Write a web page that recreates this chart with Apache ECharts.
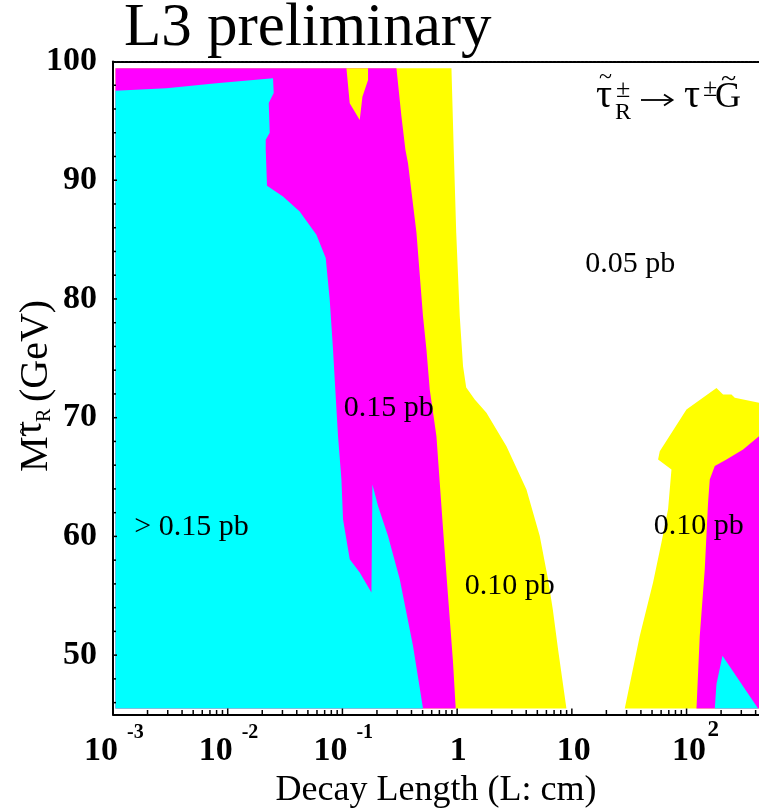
<!DOCTYPE html>
<html><head><meta charset="utf-8">
<script src="https://cdn.jsdelivr.net/npm/echarts@6/dist/echarts.min.js"></script>
<style>html,body{margin:0;padding:0;background:#fff}#c{width:759px;height:811px}</style>
</head><body><div id="c"></div>
<script>
// ---- axes ----
const X_MIN = 0.001, X_MAX = 428, Y_MIN = 45, Y_MAX = 100;
const xLabelExponents = [-3, -2, -1, 0, 1, 2];
const tickMultipliers = [1, 2, 3, 4, 5, 6, 7, 8, 9];
const yTickValues = [46, 48, 50, 52, 54, 56, 58, 60, 62, 64, 66, 68, 70, 72, 74, 76, 78, 80, 82, 84, 86, 88, 90, 92, 94, 96, 98];
const yLabelValues = [50, 60, 70, 80, 90, 100];

// ---- contour regions (x = decay length in cm, y = mass in GeV) ----
const yellowMain = [
  [0.00105, 45.5], [0.00105, 99.43], [0.892, 99.43], [0.934, 92.56], [0.982, 85.58], [1.054, 78.54],
  [1.126, 74.33], [1.20, 72.54], [1.424, 71.53], [1.80, 70.41], [2.69, 67.60], [4.02, 63.96],
  [5.25, 60.03], [6.20, 56.39], [6.82, 53.87], [7.58, 50.50], [8.97, 45.5]
];
const magentaMain = [
  [0.00105, 45.5], [0.00105, 99.43], [0.2957, 99.43], [0.327, 95.36], [0.354, 92.56], [0.373, 91.44],
  [0.442, 85.58], [0.504, 78.54], [0.540, 75.74], [0.577, 72.37], [0.660, 68.44], [0.754, 60.60],
  [0.833, 54.99], [0.921, 49.39], [0.972, 45.5]
];
const yellowSpike = [
  [0.1084, 99.43], [0.1158, 96.48], [0.1415, 95.08], [0.1494, 97.04], [0.1672, 98.44], [0.1672, 99.43]
];
const cyanMain = [
  [0.00105, 97.54], [0.002921, 97.75], [0.007971, 98.17], [0.02483, 98.59], [0.02518, 97.35],
  [0.02278, 96.51], [0.02324, 93.99], [0.02145, 93.40], [0.02145, 92.56], [0.02201, 89.53],
  [0.03034, 88.63], [0.04242, 87.37], [0.05933, 85.41], [0.07152, 83.45], [0.07749, 79.94],
  [0.08279, 75.74], [0.08568, 73.21], [0.09155, 68.44], [0.0980, 64.80], [0.1012, 61.44],
  [0.1158, 58.07], [0.1415, 56.96], [0.1790, 55.27], [0.1826, 64.38], [0.2043, 62.56],
  [0.2497, 60.03], [0.3160, 56.39], [0.4125, 50.78], [0.504, 45.5], [0.00105, 45.5]
];
const yellowRight = [
  [28.92, 45.5], [39.08, 51.62], [51.05, 56.11], [60.41, 59.48], [68.98, 62.28], [73.86, 65.64],
  [56.44, 66.48], [58.41, 67.18], [99.8, 70.69], [182.3, 72.51], [208.0, 71.95], [246.3, 71.95],
  [263.2, 71.67], [X_MAX, 71.25], [X_MAX, 45.5]
];
const magentaRight = [
  [122.0, 45.5], [130.3, 51.62], [144.1, 57.23], [153.9, 62.84], [159.3, 64.80], [176.2, 65.92],
  [222.8, 66.48], [311.0, 67.33], [X_MAX, 68.44], [X_MAX, 45.5]
];
const cyanRight = [
  [176.2, 45.5], [182.3, 47.56], [205.6, 49.94], [420.2, 45.5]
];

// ---- in-plot labels ----
const labelTexts = ['0.05 pb', '0.15 pb', '> 0.15 pb', '0.10 pb', '0.10 pb'];
const labelX = [32.3, 0.2533, 0.004826, 2.874, 127.7];
const labelY = [82.97, 70.83, 60.81, 55.83, 60.87];

const CYAN = '#00FFFF', MAGENTA = '#FF00FF', YELLOW = '#FFFF00';
const SERIF = '"Liberation Serif", "Times New Roman", serif';

const regions = [
  { pts: yellowMain, color: YELLOW },
  { pts: magentaMain, color: MAGENTA },
  { pts: yellowSpike, color: YELLOW },
  { pts: cyanMain, color: CYAN },
  { pts: yellowRight, color: YELLOW },
  { pts: magentaRight, color: MAGENTA },
  { pts: cyanRight, color: CYAN }
];

const xTickValues = [];
xLabelExponents.forEach(e => tickMultipliers.forEach(m => {
  const v = m * Math.pow(10, e);
  if (v <= X_MAX) xTickValues.push({ v: v, major: m === 1 });
}));

function txt(x, y, text, size, align, family, weight) {
  return { type: 'text', x: x, y: y, style: { text: text,
    font: (weight ? weight + ' ' : '') + size + 'px ' + (family || SERIF), fill: '#000',
    align: align || 'left', verticalAlign: 'middle' } };
}

const regionSeries = regions.map(r => ({
  type: 'custom',
  coordinateSystem: 'cartesian2d',
  silent: true,
  data: r.pts,
  renderItem: function (params, api) {
    if (params.dataIndex !== 0) return null;
    return {
      type: 'polygon',
      shape: { points: r.pts.map(p => api.coord(p)) },
      style: { fill: r.color, stroke: null }
    };
  }
}));

const xTickSeries = {
  type: 'custom', coordinateSystem: 'cartesian2d', silent: true, z: 5,
  data: xTickValues.map(t => [t.v, Y_MIN]),
  renderItem: function (params, api) {
    const p = api.coord([api.value(0), Y_MIN]);
    const len = xTickValues[params.dataIndex].major ? 6 : 4.5;
    return { type: 'line', shape: { x1: p[0], y1: p[1], x2: p[0], y2: p[1] - len },
      style: { stroke: '#000', lineWidth: 1.5 } };
  }
};
const yTickSeries = {
  type: 'custom', coordinateSystem: 'cartesian2d', silent: true, z: 5,
  data: yTickValues.map(v => [X_MIN, v]),
  renderItem: function (params, api) {
    const v = api.value(1);
    const p = api.coord([X_MIN, v]);
    const len = (v % 10 === 0) ? 4 : 3;
    return { type: 'line', shape: { x1: p[0], y1: p[1], x2: p[0] + len, y2: p[1] },
      style: { stroke: '#000', lineWidth: 1.5 } };
  }
};
// x-axis tick labels: 10 with a raised exponent, placed at each decade through the axis scale
const xLabelSeries = {
  type: 'custom', coordinateSystem: 'cartesian2d', silent: true, z: 6, clip: false,
  data: xLabelExponents.map(e => [Math.pow(10, e), Y_MIN]),
  renderItem: function (params, api) {
    const e = xLabelExponents[params.dataIndex];
    const p = api.coord([api.value(0), Y_MIN]);
    const baseY = p[1] + 36.5;
    const children = [];
    if (e === 0) {
      children.push(txt(p[0] + 1, baseY, '1', 34, 'center', SERIF, 'bold'));
    } else if (e === 1) {
      children.push(txt(p[0] + 2, baseY, '10', 34, 'center', SERIF, 'bold'));
    } else if (e < 0) {
      children.push(txt(p[0] + 5, baseY, '10', 34, 'right', SERIF, 'bold'));
      children.push(txt(p[0] + 14, p[1] + 18.5, String(e), 20, 'left', SERIF, 'bold'));
    } else {
      children.push(txt(p[0] + 2.5, baseY, '10', 34, 'center', SERIF, 'bold'));
      children.push(txt(p[0] + 21, p[1] + 15.5, String(e), 23, 'left', SERIF, 'bold'));
    }
    return { type: 'group', children: children };
  }
};
const labelSeries = {
  type: 'custom', coordinateSystem: 'cartesian2d', silent: true, z: 6,
  data: labelTexts.map((t, i) => [labelX[i], labelY[i]]),
  renderItem: function (params, api) {
    const p = api.coord([api.value(0), api.value(1)]);
    return txt(p[0], p[1], labelTexts[params.dataIndex], 30, 'center');
  }
};

const chart = echarts.init(document.getElementById('c'), null, { renderer: 'canvas' });
chart.setOption({
  animation: false,
  backgroundColor: '#fff',
  grid: { left: 113, top: 61.5, width: 646, height: 653, containLabel: false, outerBoundsMode: 'none' },
  graphic: [
    txt(124, 29.4, 'L3 preliminary', 61),
    // decay annotation
    txt(596, 96.5, 'τ', 40),
    txt(605.5, 77.5, '~', 24, 'center'),
    txt(616, 90, '±', 26),
    txt(615, 112.9, 'R', 24),
    { type: 'line', shape: { x1: 641, y1: 100, x2: 672, y2: 100 }, style: { stroke: '#000', lineWidth: 1.8 } },
    { type: 'polyline', shape: { points: [[664, 94.5], [672.5, 100], [664, 105.5]] }, style: { stroke: '#000', lineWidth: 1.8, fill: null } },
    txt(684, 96.5, 'τ', 40),
    txt(703, 89.5, '±', 26),
    txt(715, 97.8, 'G', 36),
    txt(728.5, 79.5, '~', 28, 'center'),
    // y-axis title, rotated
    {
      type: 'group', x: 50, y: 472, rotation: Math.PI / 2,
      children: [
        txt(0, -13.5, 'M', 40),
        txt(35, -19.5, 'τ', 40),
        txt(43, -26.5, '~', 22, 'center'),
        txt(50, -5, 'R', 20),
        txt(70, -13.5, '(GeV)', 40)
      ]
    }
  ],
  xAxis: [{
    type: 'log', logBase: 10, min: X_MIN, max: X_MAX, splitNumber: 6,
    position: 'bottom',
    name: 'Decay Length (L: cm)', nameLocation: 'middle', nameGap: 58,
    nameTextStyle: { fontFamily: SERIF, fontSize: 36, color: '#000' },
    axisLine: { show: true, lineStyle: { color: '#000', width: 2 } },
    axisTick: { show: false }, minorTick: { show: false },
    splitLine: { show: false },
    axisLabel: { show: false }
  }, {
    type: 'log', logBase: 10, min: X_MIN, max: X_MAX, position: 'top',
    axisLine: { show: true, lineStyle: { color: '#000', width: 2, type: [3, 1] } },
    axisTick: { show: false }, axisLabel: { show: false }, splitLine: { show: false }
  }],
  yAxis: {
    type: 'value', min: Y_MIN, max: Y_MAX, interval: 5,
    axisLine: { show: true, lineStyle: { color: '#000', width: 2 } },
    axisTick: { show: false },
    splitLine: { show: false },
    axisLabel: {
      margin: 16, fontFamily: SERIF, fontWeight: 'bold', fontSize: 34, color: '#000',
      formatter: function (v) { return yLabelValues.indexOf(v) >= 0 ? String(v) : ''; }
    }
  },
  series: regionSeries.concat([xTickSeries, yTickSeries, xLabelSeries, labelSeries])
});
</script>
</body></html>
